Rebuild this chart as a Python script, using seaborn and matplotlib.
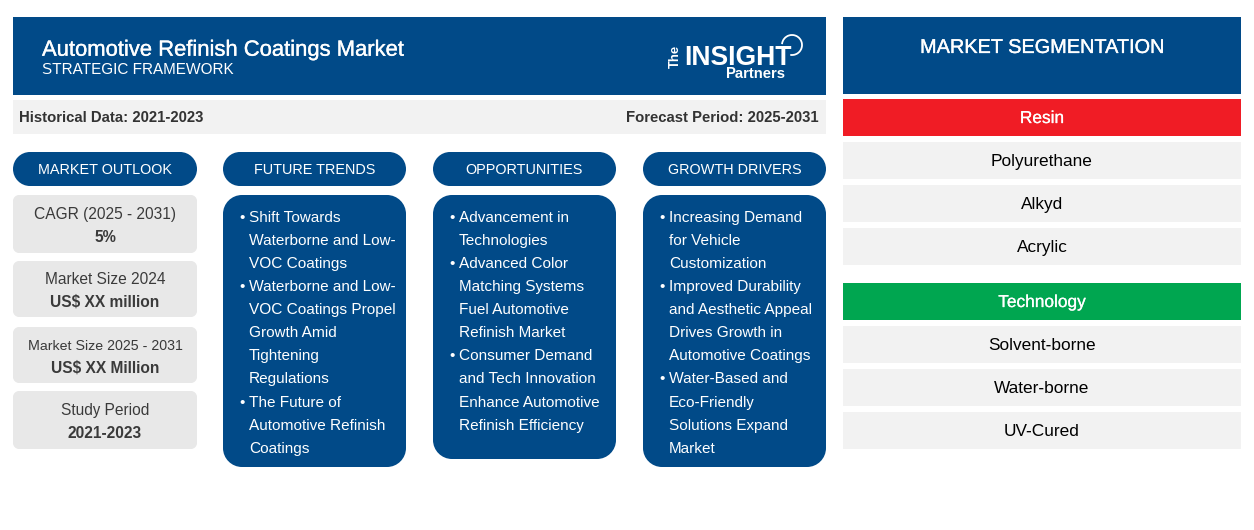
import matplotlib
matplotlib.use("Agg")
import matplotlib.pyplot as plt
from matplotlib.patches import PathPatch, Rectangle
from matplotlib.path import Path
import matplotlib.patheffects as pe
import seaborn as sns

sns.set_theme(style="white")
plt.rcParams['font.family'] = ['Liberation Sans', 'DejaVu Sans']
plt.rcParams['text.hinting'] = 'native'

TITLE = "Automotive Refinish Coatings Market"
SUBTITLE = "STRATEGIC FRAMEWORK"
HIST = "Historical Data: 2021-2023"
FORE = "Forecast Period: 2025-2031"
COLUMN_HEADS = ["MARKET OUTLOOK", "FUTURE TRENDS", "OPPORTUNITIES", "GROWTH DRIVERS"]
OUTLOOK_LABELS = ["CAGR (2025 - 2031)", "Market Size 2024", "Market Size 2025 - 2031", "Study Period"]
OUTLOOK_VALUES = ["5%", "US$ XX million", "US$ XX Million", "2021-2023"]
TRENDS = [["Shift Towards", "Waterborne and Low-", "VOC Coatings"],
          ["Waterborne and Low-", "VOC Coatings Propel", "Growth Amid", "Tightening", "Regulations"],
          ["The Future of", "Automotive Refinish", "Coatings"]]
OPPS = [["Advancement in", "Technologies"],
        ["Advanced Color", "Matching Systems", "Fuel Automotive", "Refinish Market"],
        ["Consumer Demand", "and Tech Innovation", "Enhance Automotive", "Refinish Efficiency"]]
DRIVERS = [["Increasing Demand", "for Vehicle", "Customization"],
           ["Improved Durability", "and Aesthetic Appeal", "Drives Growth in", "Automotive Coatings"],
           ["Water-Based and", "Eco-Friendly", "Solutions Expand", "Market"]]
SEG_TITLE = "MARKET SEGMENTATION"
RESIN = ["Polyurethane", "Alkyd", "Acrylic"]
TECH = ["Solvent-borne", "Water-borne", "UV-Cured"]

BLUE = "#014A88"; GREY = "#E8E8E8"; LIGHT = "#F2F2F2"; RED = "#F01C25"; GREEN = "#00A650"; DARK = "#3A3A3A"

fig = plt.figure(figsize=(12.54, 5.30), dpi=100, facecolor="white")
ax = fig.add_axes([0, 0, 1, 1])
ax.set_xlim(0, 1254); ax.set_ylim(530, 0); ax.axis("off")
sns.despine(ax=ax, left=True, bottom=True)

def rect(x0, y0, x1, y1, c):
    ax.add_patch(Rectangle((x0, y0), x1-x0, y1-y0, fc=c, ec="none"))

def rrect(x0, y0, x1, y1, r, c):
    k = 0.5523 * r
    verts = [(x0+r, y0), (x1-r, y0),
             (x1-r+k, y0), (x1, y0+r-k), (x1, y0+r), (x1, y1-r),
             (x1, y1-r+k), (x1-r+k, y1), (x1-r, y1), (x0+r, y1),
             (x0+r-k, y1), (x0, y1-r+k), (x0, y1-r), (x0, y0+r),
             (x0, y0+r-k), (x0+r-k, y0), (x0+r, y0), (x0+r, y0)]
    L, C = Path.LINETO, Path.CURVE4
    codes = [Path.MOVETO, L, C, C, C, L, C, C, C, L, C, C, C, L, C, C, C, Path.CLOSEPOLY]
    ax.add_patch(PathPatch(Path(verts, codes), fc=c, ec="none"))

def t(x, y, s, px, c="black", ha="center", w="normal", stroke=0, **k):
    # y is the centre of the capitals; the text sits on its baseline
    tx = ax.text(x, y + 0.36*px, s, fontsize=px*0.72, color=c, ha=ha, va="baseline", fontweight=w, **k)
    if stroke:
        tx.set_path_effects([pe.withStroke(linewidth=stroke, foreground=c)])
    return tx

# header
rect(13, 17, 826, 95, BLUE)
t(42, 47.8, TITLE, 22.0, "white", "left", stroke=0.25)
t(42, 69, SUBTITLE, 15.2, "white", "left")
# logo
ax.text(682, 56.5, "The", fontsize=13*0.72, color="white", ha="right", va="center", fontweight="bold", rotation=90, rotation_mode="default")
t(684, 55.5, "INSIGHT", 26.5, "white", "left", "bold")
t(785, 73, "Partners", 14.7, "white", "right", "bold")
arc = Path.arc(185, 460)
ax.add_patch(PathPatch(arc.transformed(matplotlib.transforms.Affine2D().scale(10).translate(792, 45)), fc="none", ec="white", lw=1.3))

# band
rect(13, 100, 826, 134, LIGHT)
t(19, 116.8, HIST, 14.95, "#333333", "left", "bold")
t(819, 116.8, FORE, 14.95, "#333333", "right", "bold")

cols = [(13, 197), (223, 406), (433, 616), (643, 826)]
for (a, b), h in zip(cols, COLUMN_HEADS):
    rrect(a, 152, b, 186, 17, BLUE)
    t((a+b)/2, 168.8, h, 14.4, "white")

# outlook
ys = [(195, 253), (261, 317), (327, 383), (391, 449)]
sizes = [15.5, 15.5, 14.2, 15.5]
for (y0, y1), lab, val, s in zip(ys, OUTLOOK_LABELS, OUTLOOK_VALUES, sizes):
    rrect(13, y0, 197, y1, 6, GREY)
    m = (y0+y1)/2
    t(105, m-10.5, lab, s, DARK)
    t(105, m+12, val, 15.5, DARK, w="bold")

# lists
def bullets(col, groups, bottom):
    a, b = col
    rrect(a, 195, b, bottom, 19, BLUE)
    y = 216.2
    for g in groups:
        t(a+19, y, "•", 15.4, "white")
        for line in g:
            t(a+26, y, line, 15.4, "white", "left")
            y += 23.1
bullets(cols[1], TRENDS, 467)
bullets(cols[2], OPPS, 459)
bullets(cols[3], DRIVERS, 467)

# segmentation
rect(843, 17, 1241, 94, BLUE)
t(1042, 45.8, SEG_TITLE, 19.9, "white", stroke=0.25)
def seg(y, name, color, items):
    rect(843, y, 1241, y+37, color)
    t(1042, y+17.8, name, 17.3, "white", stroke=0.15)
    yy = y+43
    for it in items:
        rect(843, yy, 1241, yy+37, LIGHT)
        t(1042, yy+17.8, it, 17.3, "black")
        yy += 43
seg(99, "Resin", RED, RESIN)
seg(283, "Technology", GREEN, TECH)

fig.savefig("out.png", dpi=100, facecolor="white")
